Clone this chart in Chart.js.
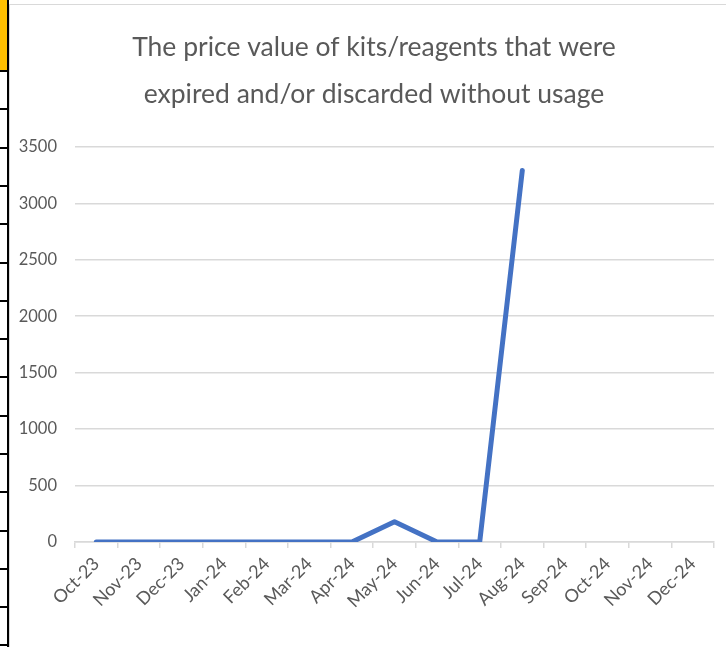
<!DOCTYPE html>
<html>
<head>
<meta charset="utf-8">
<script src="https://cdn.jsdelivr.net/npm/chart.js@4/dist/chart.umd.min.js"></script>
<style>
    body { margin: 0; width: 726px; height: 647px; overflow: hidden; background: #fff; position: relative; }
    #sheet { position: absolute; left: 0; top: 0; width: 7px; height: 647px; background: #fff; border-right: 2px solid #000; }
    #sheet .cell { position: absolute; left: 0; width: 7px; border-top: 2px solid #000; }
    #sheet .fill { position: absolute; left: 0; top: 0; width: 7px; height: 70px; background: #ffc000; }
    #frame { position: absolute; left: 9px; top: 4px; width: 730px; height: 660px; border: 1px solid #d9d9d9; box-sizing: border-box; }
    #wrap { position: absolute; left: 0; top: 0; width: 726px; height: 647px; }
</style>
</head>
<body>
<div id="sheet"><div class="fill"></div></div>
<div id="frame"></div>
<div id="wrap"><canvas id="chart" width="726" height="647"></canvas></div>
<script>
const months = ["Oct-23", "Nov-23", "Dec-23", "Jan-24", "Feb-24", "Mar-24", "Apr-24", "May-24",
    "Jun-24", "Jul-24", "Aug-24", "Sep-24", "Oct-24", "Nov-24", "Dec-24"];
const priceValues = [0, 0, 0, 0, 0, 0, 0, 180, 0, 0, 3290, null, null, null, null];
const yTicks = [0, 500, 1000, 1500, 2000, 2500, 3000, 3500];
const chartTitle = ["The price value of kits/reagents that were", "expired and/or discarded without usage"];

// spreadsheet row lines on the left edge
const sheet = document.getElementById("sheet");
for (let y = 70; y < 647; y += 38.3) {
    const d = document.createElement("div");
    d.className = "cell";
    d.style.top = Math.round(y) + "px";
    sheet.appendChild(d);
}

const grey = "#595959";
const gridGrey = "#d9d9d9";

// title is centred a bit right of the canvas centre in the original
const shiftTitle = {
    id: "shiftTitle",
    afterLayout(chart) {
        if (chart.titleBlock) chart.titleBlock.left += 24;
    }
};

new Chart(document.getElementById("chart"), {
    type: "line",
    data: {
        labels: months,
        datasets: [{
            data: priceValues,
            borderColor: "#4472c4",
            borderWidth: 5,
            borderCapStyle: "round",
            borderJoinStyle: "round",
            pointRadius: 0,
            tension: 0,
            spanGaps: false
        }]
    },
    options: {
        responsive: false,
        animation: false,
        layout: { padding: { left: 10, right: 12, top: 4, bottom: 4 } },
        plugins: {
            legend: { display: false },
            tooltip: { enabled: false },
            title: {
                display: true,
                text: chartTitle,
                color: grey,
                font: { family: "Lato", size: 26.5, weight: "normal", lineHeight: 1.77 },
                padding: { top: 20.5, bottom: 28.5 }
            }
        },
        scales: {
            x: {
                type: "category",
                offset: true,
                grid: { drawOnChartArea: false, drawTicks: true, tickLength: 6, offset: true, color: gridGrey, lineWidth: 1.5 },
                border: { display: true, color: gridGrey, width: 1.5 },
                ticks: {
                    color: grey,
                    font: { family: "Lato", size: 18 },
                    maxRotation: 45,
                    minRotation: 45,
                    autoSkip: false,
                    padding: 5
                },
                afterFit: function (scale) {
                    scale.height = 101;
                    scale.paddingLeft = 0;
                    scale.paddingRight = 0;
                }
            },
            y: {
                min: 0,
                max: 3500,
                afterBuildTicks: function (scale) { scale.ticks = yTicks.map(v => ({ value: v })); },
                grid: { drawTicks: false, color: gridGrey, lineWidth: 1.5 },
                border: { display: false },
                ticks: {
                    color: grey,
                    font: { family: "Lato", size: 16.5 },
                    padding: 18,
                    callback: value => String(value)
                },
                afterFit: function (scale) {
                    scale.width = 65;
                    scale.paddingTop = 0;
                    scale.paddingBottom = 0;
                }
            }
        }
    },
    plugins: [shiftTitle]
});
</script>
</body>
</html>
